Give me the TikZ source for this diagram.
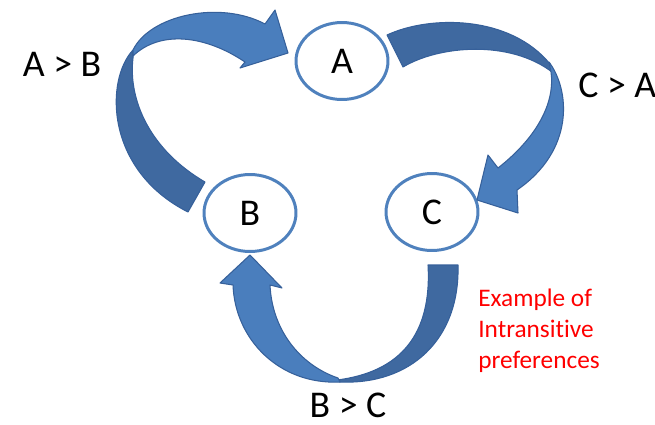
\documentclass[tikz,border=0pt]{standalone}
\usepackage{fontspec}
\setmainfont{Carlito}[Ligatures=NoCommon]
\usetikzlibrary{shapes.geometric}
\definecolor{rimblue}{HTML}{4F81BD}
\definecolor{lightband}{HTML}{4A7EBD}
\definecolor{darkband}{HTML}{3F69A0}
\definecolor{bandedge}{HTML}{36609A}

\begin{document}
\begin{tikzpicture}[x=0.02cm, y=-0.02cm,
    state/.style={ellipse, draw=rimblue, line width=1.7pt, fill=white,
      minimum width=1.84cm, minimum height=1.54cm, inner sep=0pt, font=\fontsize{21.5}{25}\selectfont},
    rel/.style={inner sep=0pt, font=\fontsize{21.5}{25}\selectfont},
    front/.style={fill=lightband, draw=bandedge, line width=0.6pt, line join=round},
    back/.style={fill=darkband, draw=bandedge, line width=0.6pt, line join=round}]

    \useasboundingbox (0,0) rectangle (655,424);

    \node[state] (a) at (342,61) {A};
    \node[state] (b) at (250,213) {B};
    \node[state] (c) at (432,212) {C};

    \node[rel] (ab) at (62,64) {A > B};
    \node[rel, anchor=west] (ca) at (578,85) {C > A};
    \node[rel] (bc) at (348,405) {B > C};

    \node[anchor=north west, align=left, text=red, inner sep=0pt,
      font=\fontsize{14.4}{17.6}\selectfont] (note) at (478,289)
      {Example of\\Intransitive\\preferences};

    % B > A
    \draw[back] (133,50) .. controls (105,80) and (105,170) .. (188,212) -- (205,182)
      .. controls (150,150) and (128,100) .. (133,58) -- cycle;
    \draw[front] (133,50) .. controls (150,15) and (220,0) .. (265,24) -- (275,10) -- (288,53)
      -- (240,68) -- (245,62) .. controls (205,35) and (160,30) .. (133,56) -- cycle;

    % A > C
    \draw[back] (550,64) .. controls (510,15) and (430,15) .. (387,35) -- (403,67)
      .. controls (440,45) and (510,40) .. (552,72) -- cycle;
    \draw[front] (549,62) .. controls (570,90) and (575,150) .. (517,190) -- (518,213) -- (477,200)
      -- (488,155) -- (498,168) .. controls (540,135) and (555,100) .. (551,72) -- cycle;

    % C > B
    \draw[back] (458,265) .. controls (460,340) and (410,385) .. (340,382) -- (337,380)
      .. controls (400,372) and (432,335) .. (428,265) -- cycle;
    \draw[front] (340,382) .. controls (280,385) and (235,340) .. (233,285) -- (220,283) -- (250,255)
      -- (282,288) -- (270,285) .. controls (272,330) and (300,365) .. (338,378) -- cycle;

  \end{tikzpicture}
\end{document}
